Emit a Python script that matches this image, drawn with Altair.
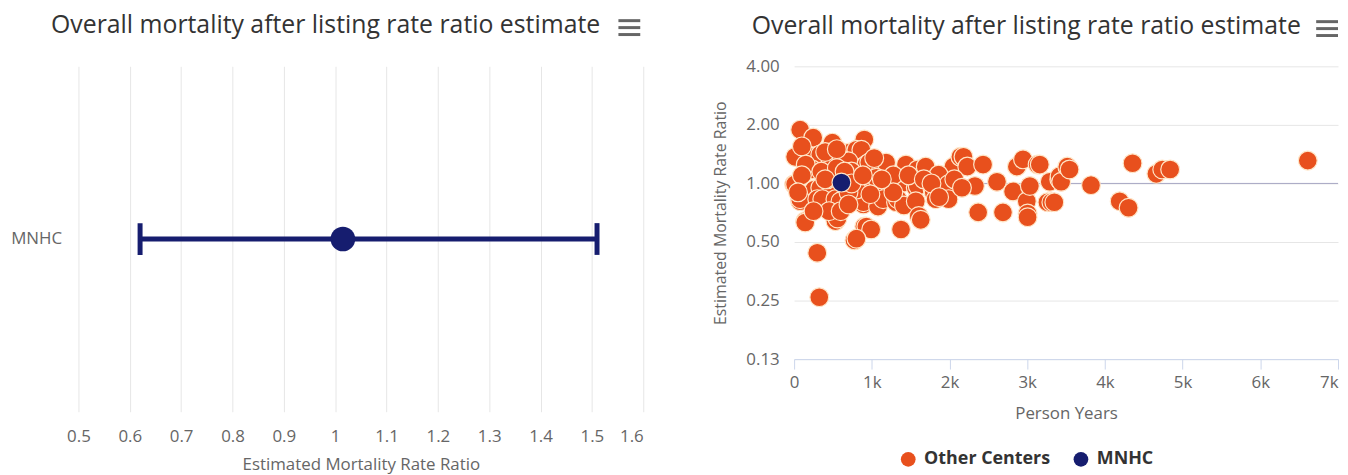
import altair as alt
import pandas as pd

# ---------------- data ----------------
center_name = ["MNHC"]
center_est = [1.015]
center_lower = [0.62]
center_upper = [1.51]

left_ticks = [0.5, 0.6, 0.7, 0.8, 0.9, 1.0, 1.1, 1.2, 1.3, 1.4, 1.5, 1.6]

other_x = [78, 246, 493, 904, 13, 208, 337, 612, 713, 802, 866, 195, 233, 467, 612, 700,
           930, 968, 1120, 1184, 1440, 1591, 1694, 2050, 2140, 2180, 2229, 1860, 0, 13,
           259, 337, 493, 955, 968, 1159, 1223, 1414, 1566, 1591, 1783, 1797, 1974, 1987,
           78, 78, 298, 363, 532, 597, 892, 892, 1080, 1146, 1312, 1336, 1414, 1566, 1822,
           1987, 143, 143, 532, 558, 904, 930, 992, 1376, 1605, 1630, 777, 802, 298, 324,
           2327, 2369, 2432, 2611, 2688, 2818, 2867, 2946, 2995, 3005, 3005, 3034, 3134,
           3162, 3260, 3290, 3311, 3349, 3413, 3417, 3437, 3516, 3545, 3821, 4190, 4305,
           4356, 4662, 4738, 4840, 6611, 738, 802, 1058, 428,
           100, 150, 350, 400, 550, 650, 700, 740, 450, 250, 600, 885, 1031, 1277, 1473,
           1669, 1277, 1129, 100, 50, 400, 550, 700, 982, 1768, 1866, 2062, 2160]
other_y = [1.89, 1.72, 1.62, 1.68, 1.37, 1.37, 1.41, 1.44, 1.44, 1.49, 1.49, 1.18, 1.18, 1.25,
           1.33, 1.30, 1.25, 1.28, 1.18, 1.28, 1.25, 1.18, 1.22, 1.22, 1.37, 1.37, 1.22, 1.11,
           0.99, 0.99, 0.93, 0.95, 0.93, 0.97, 0.97, 0.97, 0.99, 1.01, 0.95, 0.97, 0.93, 0.90,
           0.93, 0.99, 0.81, 0.83, 0.83, 0.83, 0.83, 0.81, 0.78, 0.80, 0.76, 0.83, 0.80, 0.83,
           0.77, 0.81, 0.83, 0.83, 0.64, 0.63, 0.64, 0.66, 0.60, 0.60, 0.58, 0.58, 0.68, 0.65,
           0.51, 0.52, 0.44, 0.26, 0.97, 0.71, 1.25, 1.02, 0.71, 0.91, 1.22, 1.33, 0.81, 0.70,
           0.67, 0.97, 1.25, 1.25, 0.80, 1.02, 0.80, 0.80, 1.05, 1.09, 1.02, 1.22, 1.18, 0.98,
           0.81, 0.75, 1.27, 1.12, 1.18, 1.18, 1.31, 1.15, 0.93, 1.07, 1.05,
           1.55, 1.25, 1.15, 1.45, 1.20, 1.15, 0.90, 1.00, 0.72, 0.72, 0.72, 1.10, 1.35, 1.10,
           1.10, 1.05, 0.90, 1.05, 1.10, 0.90, 1.05, 1.50, 0.78, 0.88, 1.00, 0.85, 1.05, 0.95]
mnhc_x = [609]
mnhc_y = [1.01]

y_ticks = [0.125, 0.25, 0.5, 1, 2, 4]
x_ticks = [0, 1000, 2000, 3000, 4000, 5000, 6000, 7000]
groups = ["Other Centers", "MNHC"]
group_colors = ["#E8501D", "#161D6F"]

TITLE = "Overall mortality after listing rate ratio estimate"
FONT = "Open Sans"
NAVY = "#161D6F"
GREY = "#666666"

# ---------------- left chart ----------------
ci_df = pd.DataFrame({"center": center_name, "est": center_est,
                      "lower": center_lower, "upper": center_upper})

xl = alt.X("lower:Q", scale=alt.Scale(domain=[0.5, 1.6], nice=False, zero=False),
           axis=alt.Axis(values=left_ticks, labelExpr="format(datum.value, '~g')",
                         labelAlign={"condition": {"test": "datum.value >= 1.59",
                                                   "value": "right"}, "value": "center"},
                         grid=True, gridColor="#e6e6e6", domain=False, ticks=False,
                         labelFlush=False, labelPadding=17, labelFontSize=17,
                         labelColor=GREY, labelFont=FONT,
                         title="Estimated Mortality Rate Ratio",
                         titleFont=FONT, titleFontSize=17, titleColor=GREY,
                         titleFontWeight="normal", titlePadding=12))
yl = alt.Y("center:N", scale=alt.Scale(paddingInner=0, paddingOuter=0),
           axis=alt.Axis(title=None, domain=False, ticks=False, grid=False,
                         labelPadding=17, labelFontSize=17, labelColor=GREY,
                         labelFont=FONT, minExtent=71))

base_l = alt.Chart(ci_df)
rule_l = base_l.mark_rule(color=NAVY, strokeWidth=5).encode(x=xl, x2="upper:Q", y=yl)
cap_lo = base_l.mark_tick(color=NAVY, thickness=5, size=32, opacity=1).encode(x="lower:Q", y=yl)
cap_hi = base_l.mark_tick(color=NAVY, thickness=5, size=32, opacity=1).encode(x="upper:Q", y=yl)
pt_l = base_l.mark_circle(color=NAVY, opacity=1, size=620).encode(x="est:Q", y=yl)

menu_df = pd.DataFrame({"k": [0]})


def menu(xa, xb, ys):
    layers = []
    for yy in ys:
        layers.append(alt.Chart(menu_df).mark_rule(color=GREY, strokeWidth=3).encode(
            x=alt.value(xa), x2=alt.value(xb), y=alt.value(yy)))
    return layers


title_params = dict(font=FONT, fontSize=25, color="#333333", fontWeight="normal",
                    anchor="middle", frame="bounds", offset=-19)

left = alt.layer(rule_l, cap_lo, cap_hi, pt_l, *menu(544, 566, [-46, -39, -32])).properties(
    width=569, height=348, title=alt.TitleParams(TITLE, **title_params))

# ---------------- right chart ----------------
sc_df = pd.DataFrame({
    "px": other_x + mnhc_x,
    "ratio": other_y + mnhc_y,
    "group": ["Other Centers"] * len(other_x) + ["MNHC"] * len(mnhc_x),
})

xr = alt.X("px:Q", scale=alt.Scale(domain=[0, 7000], nice=False),
           axis=alt.Axis(values=x_ticks,
                         labelExpr="datum.value == 0 ? '0' : (datum.value / 1000) + 'k'",
                         labelAlign={"condition": {"test": "datum.value >= 7000",
                                                   "value": "right"}, "value": "center"},
                         grid=False, domain=True, domainColor="#ccd6eb", ticks=True,
                         tickColor="#ccd6eb", tickSize=10, labelPadding=6, labelFlush=False,
                         labelFontSize=17, labelColor=GREY, labelFont=FONT,
                         title="Person Years", titleFont=FONT, titleFontSize=17,
                         titleColor=GREY, titleFontWeight="normal", titlePadding=15))
yr = alt.Y("ratio:Q", scale=alt.Scale(type="log", base=2, domain=[0.125, 4], nice=False),
           axis=alt.Axis(values=y_ticks, format=".2f", grid=True, gridColor="#e6e6e6",
                         domain=False, ticks=False, labelPadding=15, labelFontSize=17,
                         labelColor=GREY, labelFont=FONT,
                         title="Estimated Mortality Rate Ratio", titleFont=FONT,
                         titleFontSize=16, titleColor=GREY, titleFontWeight="normal",
                         titlePadding=17))

ref_df = pd.DataFrame({"ratio": [1.0]})
ref_line = alt.Chart(ref_df).mark_rule(color="#a7a7c4", strokeWidth=1).encode(y="ratio:Q")

pts = alt.Chart(sc_df).mark_circle(size=360, opacity=1, stroke="#ffe6c8",
                                   strokeWidth=1.2).encode(
    x=xr, y=yr,
    color=alt.Color("group:N", scale=alt.Scale(domain=groups, range=group_colors),
                    legend=alt.Legend(title=None, orient="none", legendX=827, legendY=387,
                                      direction="horizontal", symbolType="circle",
                                      symbolSize=220, symbolStrokeWidth=0,
                                      labelFont=FONT, labelFontSize=18,
                                      labelFontWeight="bold", labelColor="#333333",
                                      labelOffset=7, columnPadding=22, padding=0)))

right = alt.layer(ref_line, pts, *menu(526, 548, [-45, -38, -31])).properties(
    width=548, height=295, title=alt.TitleParams(TITLE, **title_params))

chart = alt.hconcat(left, right, spacing=70).properties(
    padding={"top": 3, "left": 0, "right": 0, "bottom": 0}
).configure(font=FONT).configure_view(strokeWidth=0, stroke="transparent")

chart.save("out.html", embed_options={"renderer": "svg", "actions": False})
